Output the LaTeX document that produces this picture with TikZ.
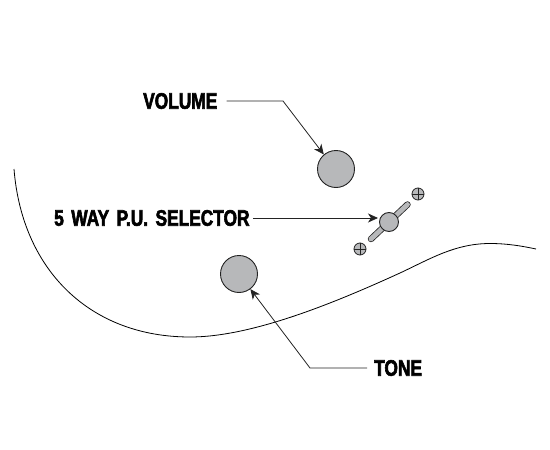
\documentclass[tikz,border=0pt]{standalone}
\usepackage{fontspec}
\setmainfont[FakeStretch=0.77,FakeBold=2.5,WordSpace=1.55]{Liberation Sans Bold}
\usetikzlibrary{arrows.meta}
\definecolor{knobGray}{RGB}{183,184,186}
\definecolor{lineDark}{RGB}{35,35,35}
\tikzset{
  knob/.style={circle,draw=lineDark,fill=knobGray,line width=0.9pt,inner sep=0pt,minimum size=#1},
  lead/.style={draw=lineDark,line width=0.8pt,-{Stealth[length=10pt,width=9pt,inset=3pt]}},
  partname/.style={font=\fontsize{22.5}{22.5}\selectfont,text=black,inner sep=0pt},
  screw/.style={circle,draw=lineDark,fill=knobGray,line width=0.8pt,inner sep=0pt,minimum size=12pt},
}
\begin{document}
\begin{tikzpicture}[x=1pt,y=-1pt]
\useasboundingbox (0,0) rectangle (550,450);
% body edge
\draw[line width=0.8pt,black] (14,169) .. controls (22,270) and (90,337) .. (190,337)
  .. controls (250,337) and (330,305) .. (400,273)
  .. controls (430,259) and (455,243.5) .. (490,243.5)
  .. controls (507,243.5) and (522,246) .. (536,249);
% switch
\draw[line width=6.4pt,lineDark,line cap=round] (371,239) -- (407.5,204.5);
\draw[line width=4.8pt,knobGray,line cap=round] (371,239) -- (407.5,204.5);
\node[knob=19pt] (selector) at (389,222) {};
\node[screw] (screwA) at (418,194) {};
\node[screw] (screwB) at (360,249) {};
\draw[line width=0.8pt,lineDark] (screwA.west) -- (screwA.east) (screwA.north) -- (screwA.south);
\draw[line width=0.8pt,lineDark] (screwB.west) -- (screwB.east) (screwB.north) -- (screwB.south);
% knobs
\node[knob=37pt] (volume) at (336,169) {};
\node[knob=37pt] (tone) at (239,274) {};
% labels
\node[partname,anchor=west] (volumeLabel) at (143,101) {VOLUME};
\node[partname,anchor=west] (selectorLabel) at (54,218) {5 WAY P.U. SELECTOR};
\node[partname,anchor=west] (toneLabel) at (374,368) {TONE};
% leaders
\coordinate (volumeBend) at (283,101);
\coordinate (toneBend) at (310,368);
\coordinate (selectorTip) at (378,218);
\draw[lead,shorten <=9pt] (volumeLabel.east) -- (volumeBend) -- (volume.130);
\draw[lead,shorten <=3pt] (selectorLabel.east) -- (selectorTip);
\draw[lead,shorten <=7pt] (toneLabel.west) -- (toneBend) -- (tone.307);
\end{tikzpicture}
\end{document}
